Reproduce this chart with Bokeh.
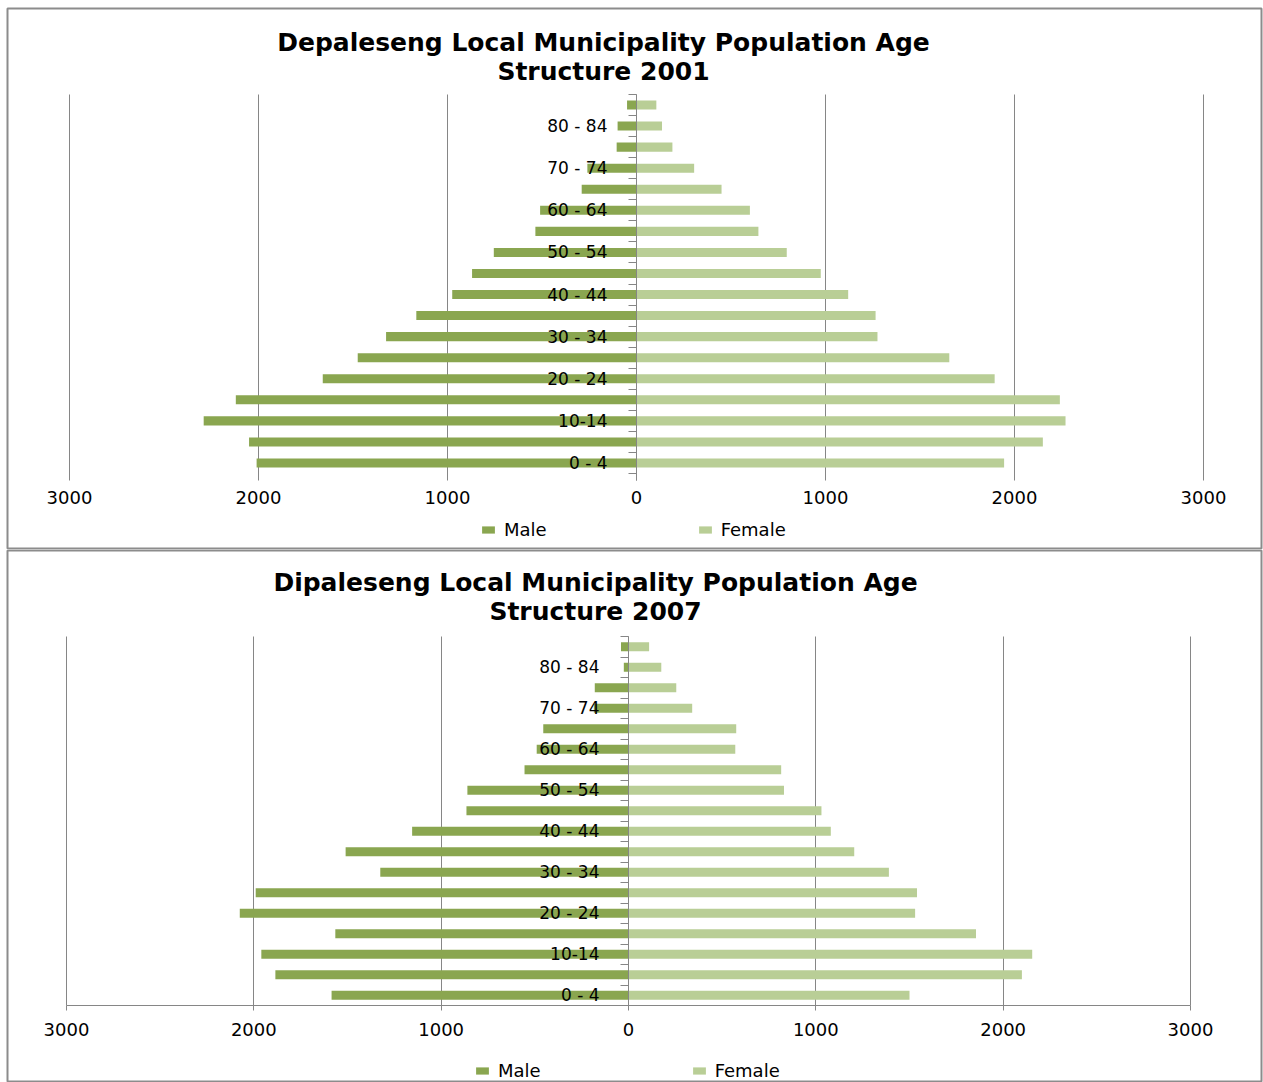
from bokeh.plotting import figure
from bokeh.models import (ColumnDataSource, FixedTicker, CustomJSTickFormatter, LinearAxis,
                          Range1d, Legend, LegendItem, Label)
from bokeh.layouts import column
from bokeh.embed import file_html
from bokeh.resources import INLINE

# ---------------- data ----------------
age_groups = ["0 - 4", "5 - 9", "10-14", "15 - 19", "20 - 24", "25 - 29", "30 - 34", "35 - 39",
              "40 - 44", "45 - 49", "50 - 54", "55 - 59", "60 - 64", "65 - 69", "70 - 74",
              "75 - 79", "80 - 84", "85+"]

male_2001 = [2010, 2050, 2290, 2120, 1660, 1475, 1325, 1165, 975, 870, 755, 535, 510, 290, 260, 105, 100, 50]
female_2001 = [1945, 2150, 2270, 2240, 1895, 1655, 1275, 1265, 1120, 975, 795, 645, 600, 450, 305, 190, 135, 105]

male_2007 = [1585, 1885, 1960, 1565, 2075, 1990, 1325, 1510, 1155, 865, 860, 555, 490, 455, 185, 180, 25, 40]
female_2007 = [1500, 2100, 2155, 1855, 1530, 1540, 1390, 1205, 1080, 1030, 830, 815, 570, 575, 340, 255, 175, 110]

x_ticks = [-3000, -2000, -1000, 0, 1000, 2000, 3000]

title_2001 = "Depaleseng Local Municipality Population Age\nStructure 2001"
title_2007 = "Dipaleseng Local Municipality Population Age\nStructure 2007"

MALE_COLOR = "#8aa650"
FEMALE_COLOR = "#b9ce96"
GRID = "#868686"
BORDER = "#8c8c8c"
FONT = "DejaVu Sans"


def make_chart(title, male, female, fig_h, frame_px, plot_px, grid_low_px, axis_line,
               title_px, legend_px, tick_standoff):
    """frame_px: (left, top, right, bottom) of the bordered box in canvas px.
    plot_px: (left, top, right, bottom) of the -3000..3000 x 18-group plot area."""
    n = len(age_groups)
    fl, ft, fr, fb = frame_px
    pl, pt, pr, pb = plot_px
    xspan = x_ticks[-1] - x_ticks[0]
    kx = (pr - pl) / xspan
    ky = (pb - pt) / n
    x0 = x_ticks[0] - (pl - fl) / kx
    x1 = x_ticks[-1] + (fr - pr) / kx
    y1 = n + (pt - ft) / ky
    y0 = -(fb - pb) / ky
    grid_low = -(grid_low_px - pb) / ky

    src = ColumnDataSource(dict(
        y=[i + 0.5 for i in range(n)],
        male_left=[-v for v in male],
        female=female,
    ))
    p = figure(width=1263, height=fig_h, output_backend="svg", toolbar_location=None,
               x_range=Range1d(x0, x1), y_range=Range1d(y0, y1),
               min_border_left=fl, min_border_right=1263 - fr,
               min_border_top=ft, min_border_bottom=fig_h - fb,
               x_axis_location=None, y_axis_location=None,
               outline_line_color=BORDER, outline_line_width=2,
               background_fill_color="white", border_fill_color="white")

    rm = p.hbar(y="y", left="male_left", right=0, height=0.43, source=src,
                fill_color=MALE_COLOR, line_color=None)
    rf = p.hbar(y="y", left=0, right="female", height=0.43, source=src,
                fill_color=FEMALE_COLOR, line_color=None)

    # vertical gridlines limited to the plot area
    p.xgrid.ticker = FixedTicker(ticks=x_ticks)
    p.xgrid.cross_bounds = (grid_low, n)
    p.xgrid.grid_line_color = GRID
    p.xgrid.grid_line_width = 1
    p.ygrid.grid_line_color = None

    # value axis along the bottom of the plot area
    xa = LinearAxis(ticker=FixedTicker(ticks=x_ticks), fixed_location=grid_low,
                    bounds=(x_ticks[0], x_ticks[-1]),
                    formatter=CustomJSTickFormatter(code="return Math.abs(tick).toString();"),
                    major_label_text_font=FONT, major_label_text_font_size="18px",
                    major_label_text_color="#000000", minor_tick_line_color=None,
                    major_label_standoff=tick_standoff)
    if axis_line:
        xa.axis_line_color = GRID
        xa.major_tick_line_color = GRID
        xa.major_tick_out = 5
        xa.major_tick_in = 0
    else:
        xa.axis_line_color = None
        xa.major_tick_line_color = None
        xa.major_tick_out = 0
        xa.major_tick_in = 0
    p.add_layout(xa, "below")

    # central vertical axis with ticks at category boundaries
    tick_axis = LinearAxis(ticker=FixedTicker(ticks=list(range(n + 1))), fixed_location=0,
                           bounds=(grid_low, n),
                           axis_line_color=GRID, axis_line_width=1,
                           major_tick_line_color=GRID, major_tick_out=8, major_tick_in=0,
                           minor_tick_line_color=None, major_label_text_color=None)
    p.add_layout(tick_axis, "left")

    # category labels, every other group
    label_axis = LinearAxis(ticker=FixedTicker(ticks=[i + 0.5 for i in range(0, n - 1, 2)]),
                            fixed_location=0,
                            formatter=CustomJSTickFormatter(args=dict(labels=age_groups),
                                                            code="return labels[Math.floor(tick)];"),
                            axis_line_color=None, major_tick_line_color=None,
                            minor_tick_line_color=None, major_label_standoff=23,
                            major_label_text_font=FONT, major_label_text_font_size="17px",
                            major_label_text_color="#000000")
    p.add_layout(label_axis, "left")

    # chart title
    tx, tb = title_px
    p.add_layout(Label(x=tx - fl, y=fb - tb, x_units="screen", y_units="screen",
                       text=title, text_align="center", text_baseline="bottom",
                       text_font=FONT, text_font_style="bold", text_font_size="25px",
                       text_color="#000000", text_line_height=1.02))

    # legend
    lx, lb = legend_px
    legend = Legend(items=[LegendItem(label="Male", renderers=[rm]),
                           LegendItem(label="Female", renderers=[rf])],
                    orientation="horizontal", location=(lx - fl, fb - lb),
                    glyph_width=16, glyph_height=9, label_standoff=8, spacing=150,
                    label_text_font=FONT, label_text_font_size="18px",
                    label_text_color="#000000",
                    border_line_color=None, background_fill_alpha=0,
                    margin=0, padding=3)
    p.add_layout(legend, "center")
    return p


p1 = make_chart(title_2001, male_2001, female_2001, fig_h=549,
                frame_px=(7, 8, 1261, 548), plot_px=(69, 94, 1203, 473), grid_low_px=480,
                axis_line=False, title_px=(603, 86), legend_px=(480, 540), tick_standoff=10)
p2 = make_chart(title_2007, male_2007, female_2007, fig_h=533,
                frame_px=(7, 1, 1261, 532), plot_px=(66, 87, 1190, 456), grid_low_px=456,
                axis_line=True, title_px=(595, 77), legend_px=(474, 532), tick_standoff=12)

layout = column(p1, p2, spacing=0)

open("out.html", "w").write(file_html(layout, INLINE))
